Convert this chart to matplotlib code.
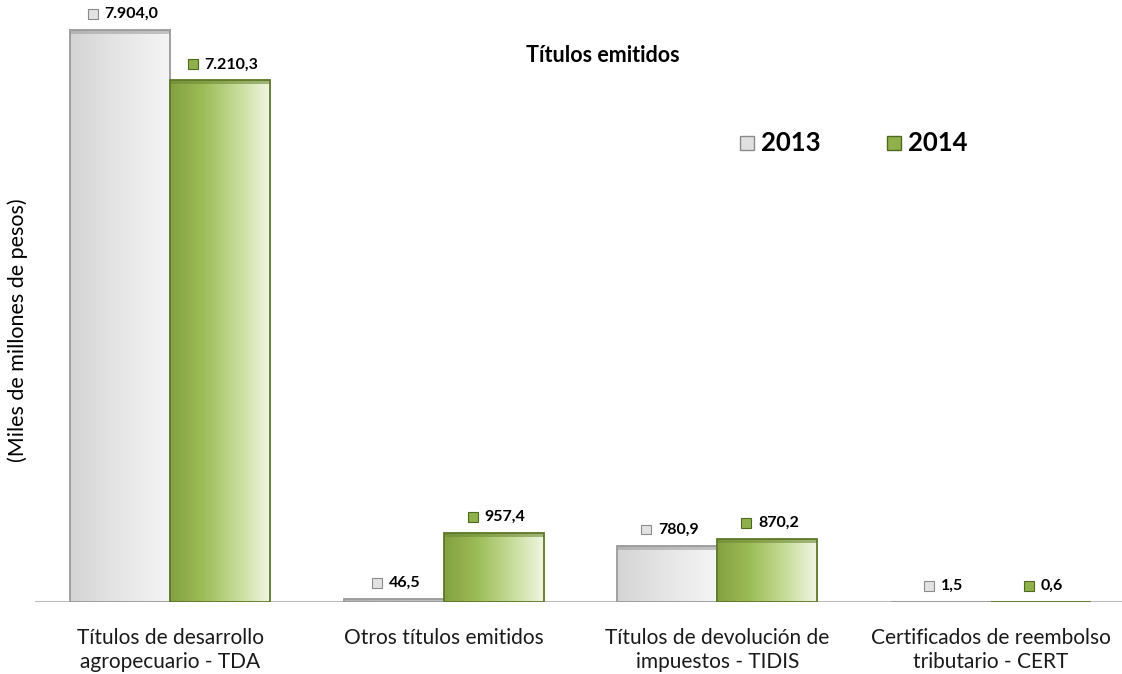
import matplotlib
matplotlib.use("Agg")
import matplotlib.pyplot as plt
import numpy as np
from matplotlib.colors import LinearSegmentedColormap
from matplotlib.patches import Rectangle
from matplotlib.offsetbox import AnnotationBbox, HPacker, DrawingArea, TextArea

categories = ["Títulos de desarrollo\nagropecuario - TDA",
              "Otros títulos emitidos",
              "Títulos de devolución de\nimpuestos - TIDIS",
              "Certificados de reembolso\ntributario - CERT"]
values_2013 = [7904.0, 46.5, 780.9, 1.5]
values_2014 = [7210.3, 957.4, 870.2, 0.6]
series_names = ["2013", "2014"]
title = "Títulos emitidos"
ylabel = "(Miles de millones de pesos)"

plt.rcParams['font.family'] = ['Lato', 'DejaVu Sans']

W, H = 1122, 674
fig = plt.figure(figsize=(W / 100, H / 100), dpi=100)
ax_left, ax_right = 35, 1122
ax_bottom, ax_top = 602, 25
ax = fig.add_axes([ax_left / W, 1 - ax_bottom / H, (ax_right - ax_left) / W, (ax_bottom - ax_top) / H])

ymax = 7975
ax.set_ylim(0, ymax)
ax.set_xlim(-0.495, 3.48)

x = np.arange(len(categories))
bw = 0.366

grey_cmap = LinearSegmentedColormap.from_list("g", ["#d4d4d4", "#e6e6e6", "#f5f5f5"])
green_cmap = LinearSegmentedColormap.from_list("gr", ["#83a140", "#9dbd58", "#c5db98", "#f2f7e4"])
styles = [
    dict(cmap=grey_cmap, edge="#9a9a9a", top="#a0a0a0", mfc="#e2e2e2", mec="#8a8a8a"),
    dict(cmap=green_cmap, edge="#5d7828", top="#6f8a36", mfc="#8fb04a", mec="#4f6a20"),
]

grad = np.linspace(0, 1, 256).reshape(1, -1)


def fmt(v):
    return f"{v:,.1f}".replace(",", "X").replace(".", ",").replace("X", ".")


for si, vals in enumerate([values_2013, values_2014]):
    offs = -bw / 2 if si == 0 else bw / 2
    st = styles[si]
    bars = ax.bar(x + offs, vals, width=bw, color="none", edgecolor=st["edge"], linewidth=1.3, zorder=3)
    for b, v in zip(bars, vals):
        x0, w, h = b.get_x(), b.get_width(), b.get_height()
        im = ax.imshow(grad, cmap=st["cmap"], aspect="auto", extent=[x0, x0 + w, 0, h],
                       zorder=2, interpolation="bicubic")
        im.set_clip_path(b)
        bev = min(h, ymax * 0.007)
        ax.add_patch(Rectangle((x0, h - bev), w, bev, facecolor=st["top"], alpha=0.6,
                               edgecolor="none", zorder=2.5))
        cx = x0 + w / 2
        da = DrawingArea(7, 7, 0, 0)
        da.add_artist(Rectangle((0, 0), 7, 7, facecolor=st["mfc"], edgecolor=st["mec"], linewidth=0.8))
        ta = TextArea(fmt(v), textprops=dict(fontsize=11.5, fontweight="bold", color="black"))
        pack = HPacker(children=[da, ta], align="center", pad=0, sep=5)
        ab = AnnotationBbox(pack, (cx, h), xybox=(2, 11.5), xycoords="data",
                            boxcoords="offset points", box_alignment=(0.5, 0.5),
                            frameon=False, zorder=5)
        ax.add_artist(ab)

ax.axhline(0, color="#bdbdbd", linewidth=1.5, zorder=1)
for s in ax.spines.values():
    s.set_visible(False)
ax.set_yticks([])
ax.set_xticks(x)
ax.set_xticklabels(categories, fontsize=15, color="#1a1a1a", linespacing=1.2)
ax.tick_params(axis="x", length=0, pad=19)

fig.text(603 / W, 1 - 55 / H, title, ha="center", va="center", fontsize=15.5, fontweight="bold")
fig.text(18 / W, 1 - 330 / H, ylabel, ha="center", va="center", rotation=90, fontsize=15.5)

# legend
leg_items = [(747, series_names[0], "#e0e0e0", "#8a8a8a"), (894, series_names[1], "#8fb04a", "#4f6a20")]
for lx, name, fc, ec in leg_items:
    fig.patches.append(Rectangle(((lx - 7) / W, 1 - (143 + 7) / H), 14 / W, 14 / H,
                                 transform=fig.transFigure, facecolor=fc, edgecolor=ec, linewidth=1))
    fig.text((lx + 14) / W, 1 - 143 / H, name, ha="left", va="center", fontsize=18.5, fontweight="bold")

fig.savefig("out.png", dpi=100)
